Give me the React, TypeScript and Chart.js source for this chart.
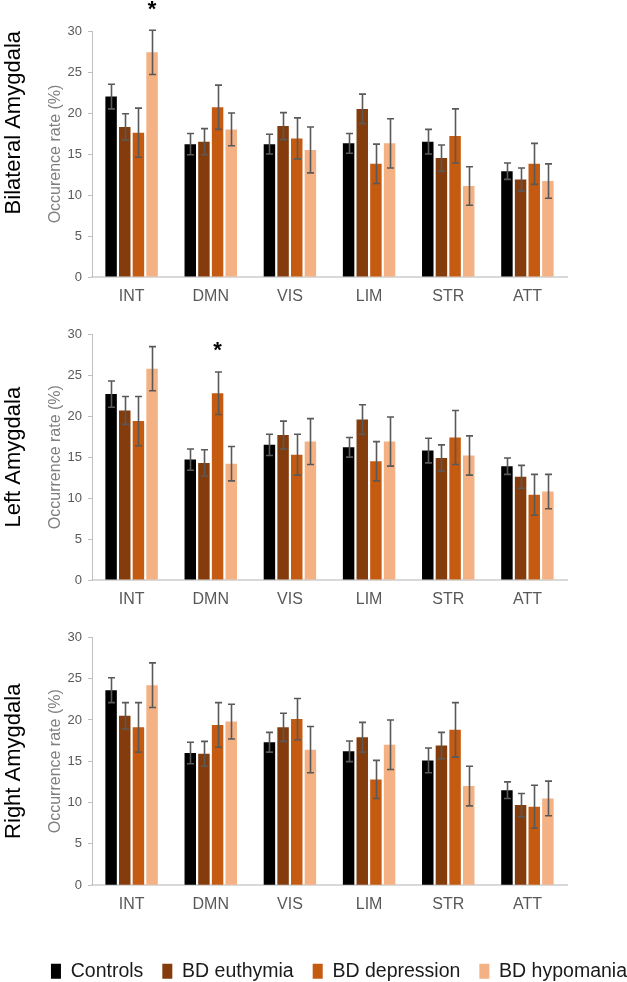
import React, { useEffect, useRef } from 'react';
import { Chart, registerables } from 'chart.js';

Chart.register(...registerables);

// ---------- data ----------
const categories = ['INT', 'DMN', 'VIS', 'LIM', 'STR', 'ATT'];
const seriesNames = ['Controls', 'BD euthymia', 'BD depression', 'BD hypomania'];
const seriesColors = ['#000000', '#843C0C', '#C55A11', '#F4B183'];
const yMin = 0;
const yMax = 30;
const yStep = 5;

const panelTitles = ['Bilateral Amygdala', 'Left Amygdala', 'Right Amygdala'];
const axisTitles = ['Occurence rate (%)', 'Occurrence rate (%)', 'Occurrence rate (%)'];

// Bilateral amygdala
const bilateralControls = [22.0, 16.2, 16.2, 16.3, 16.5, 12.9];
const bilateralEuthymia = [18.3, 16.5, 18.4, 20.5, 14.5, 11.9];
const bilateralDepression = [17.6, 20.7, 16.9, 13.8, 17.2, 13.8];
const bilateralHypomania = [27.4, 18.0, 15.5, 16.3, 11.1, 11.7];
const bilateralControlsErr = [1.5, 1.3, 1.2, 1.2, 1.5, 1.0];
const bilateralEuthymiaErr = [1.6, 1.6, 1.65, 1.8, 1.6, 1.4];
const bilateralDepressionErr = [3.0, 2.7, 2.5, 2.4, 3.3, 2.5];
const bilateralHypomaniaErr = [2.7, 2.0, 2.8, 3.0, 2.35, 2.1];
const bilateralStars = [{ category: 'INT', series: 'BD hypomania' }];

// Left amygdala
const leftControls = [22.7, 14.7, 16.5, 16.2, 15.8, 13.9];
const leftEuthymia = [20.7, 14.3, 17.7, 19.6, 14.9, 12.6];
const leftDepression = [19.4, 22.8, 15.3, 14.5, 17.4, 10.4];
const leftHypomania = [25.8, 14.2, 16.9, 16.9, 15.2, 10.8];
const leftControlsErr = [1.6, 1.3, 1.3, 1.2, 1.5, 1.0];
const leftEuthymiaErr = [1.7, 1.6, 1.7, 1.8, 1.6, 1.4];
const leftDepressionErr = [3.0, 2.6, 2.5, 2.4, 3.3, 2.5];
const leftHypomaniaErr = [2.7, 2.1, 2.8, 3.0, 2.4, 2.1];
const leftStars = [{ category: 'DMN', series: 'BD depression' }];

// Right amygdala
const rightControls = [23.6, 16.0, 17.3, 16.2, 15.1, 11.5];
const rightEuthymia = [20.5, 15.9, 19.1, 17.9, 16.9, 9.7];
const rightDepression = [19.1, 19.4, 20.1, 12.8, 18.8, 9.5];
const rightHypomania = [24.2, 19.8, 16.4, 17.0, 12.0, 10.5];
const rightControlsErr = [1.5, 1.3, 1.2, 1.25, 1.5, 1.0];
const rightEuthymiaErr = [1.6, 1.5, 1.7, 1.8, 1.6, 1.4];
const rightDepressionErr = [3.0, 2.7, 2.5, 2.3, 3.3, 2.6];
const rightHypomaniaErr = [2.7, 2.1, 2.8, 3.0, 2.4, 2.1];
const rightStars: { category: string; series: string }[] = [];

type PanelData = {
  title: string;
  axisTitle: string;
  means: number[][];
  errors: number[][];
  stars: { category: string; series: string }[];
};

const panels: PanelData[] = [
  {
    title: panelTitles[0],
    axisTitle: axisTitles[0],
    means: [bilateralControls, bilateralEuthymia, bilateralDepression, bilateralHypomania],
    errors: [bilateralControlsErr, bilateralEuthymiaErr, bilateralDepressionErr, bilateralHypomaniaErr],
    stars: bilateralStars,
  },
  {
    title: panelTitles[1],
    axisTitle: axisTitles[1],
    means: [leftControls, leftEuthymia, leftDepression, leftHypomania],
    errors: [leftControlsErr, leftEuthymiaErr, leftDepressionErr, leftHypomaniaErr],
    stars: leftStars,
  },
  {
    title: panelTitles[2],
    axisTitle: axisTitles[2],
    means: [rightControls, rightEuthymia, rightDepression, rightHypomania],
    errors: [rightControlsErr, rightEuthymiaErr, rightDepressionErr, rightHypomaniaErr],
    stars: rightStars,
  },
];

// ---------- layout (styles) ----------
const FONT = '"Liberation Sans", Arial, sans-serif';
const layouts = [
  { top: 0, width: 627, height: 310, padTop: 31, xAxisH: 33, rightW: 60, legend: false, titleAlign: 'end' },
  { top: 310, width: 627, height: 303, padTop: 24.3, xAxisH: 33, rightW: 60, legend: false, titleAlign: 'center' },
  { top: 613, width: 646, height: 378, padTop: 24.3, xAxisH: 57.3, rightW: 79, legend: true, titleAlign: 'center' },
];

function makeErrorPlugin(errors: number[][], stars: { category: string; series: string }[]) {
  return {
    id: 'errorBarsAndStars',
    afterDatasetsDraw(chart: any) {
      const ctx = chart.ctx as CanvasRenderingContext2D;
      const yScale = chart.scales.y;
      const cap = 3.5;
      ctx.save();
      ctx.strokeStyle = '#595959';
      ctx.lineWidth = 1.6;
      chart.data.datasets.forEach((ds: any, i: number) => {
        const meta = chart.getDatasetMeta(i);
        meta.data.forEach((bar: any, j: number) => {
          const v = ds.data[j] as number;
          const e = errors[i][j];
          const x = Math.round(bar.x) + 0.5;
          const yt = yScale.getPixelForValue(v + e);
          const yb = yScale.getPixelForValue(v - e);
          ctx.beginPath();
          ctx.moveTo(x, yt);
          ctx.lineTo(x, yb);
          ctx.moveTo(x - cap, yt);
          ctx.lineTo(x + cap, yt);
          ctx.moveTo(x - cap, yb);
          ctx.lineTo(x + cap, yb);
          ctx.stroke();
        });
      });
      ctx.fillStyle = '#000000';
      ctx.font = `bold 22px ${FONT}`;
      ctx.textAlign = 'center';
      ctx.textBaseline = 'alphabetic';
      stars.forEach((s) => {
        const i = seriesNames.indexOf(s.series);
        const j = categories.indexOf(s.category);
        const bar = chart.getDatasetMeta(i).data[j];
        const v = chart.data.datasets[i].data[j] as number;
        const yt = yScale.getPixelForValue(v + errors[i][j]);
        const center = yt - 25;
        const m = ctx.measureText('*');
        const base = center + (m.actualBoundingBoxAscent - m.actualBoundingBoxDescent) / 2;
        ctx.fillText('*', bar.x, base);
      });
      ctx.restore();
    },
  };
}

function Panel({ data, layout }: { data: PanelData; layout: any }) {
  const ref = useRef<HTMLCanvasElement | null>(null);
  useEffect(() => {
    if (!ref.current) return;
    const chart = new Chart(ref.current, {
      type: 'bar',
      data: {
        labels: categories,
        datasets: seriesNames.map((name, i) => ({
          label: name,
          data: data.means[i],
          backgroundColor: seriesColors[i],
          borderWidth: 0,
          categoryPercentage: 0.69,
          barPercentage: 0.84,
          yAxisID: 'y',
        })),
      },
      options: {
        responsive: false,
        maintainAspectRatio: false,
        animation: false,
        layout: { padding: { top: layout.padTop, left: 0, right: 0, bottom: 0 } },
        plugins: {
          legend: layout.legend
            ? {
                display: true,
                position: 'bottom',
                align: 'end',
                labels: {
                  boxWidth: 10,
                  boxHeight: 15,
                  padding: 19,
                  color: '#1a1a1a',
                  font: { size: 19.5, family: FONT },
                },
              }
            : { display: false },
          tooltip: { enabled: false },
        },
        scales: {
          x: {
            position: 'bottom',
            grid: { display: false, drawTicks: false },
            border: { display: true, color: '#D9D9D9', width: 2 },
            ticks: { color: '#595959', font: { size: 16, family: FONT }, padding: 10 },
            afterFit: (s: any) => {
              s.height = layout.xAxisH;
            },
          },
          y: {
            position: 'left',
            weight: 0,
            min: yMin,
            max: yMax,
            ticks: { stepSize: yStep, color: '#595959', font: { size: 13, family: FONT }, padding: 6 },
            grid: { display: true, drawOnChartArea: false, drawTicks: true, tickLength: 4, color: '#BFBFBF' },
            border: { display: true, color: '#BFBFBF', width: 1 },
            title: {
              display: true,
              text: data.axisTitle,
              color: '#7F7F7F',
              font: { size: 16, family: FONT },
              padding: { top: 10, bottom: 0 },
            },
            afterFit: (s: any) => {
              s.width = 56;
            },
          },
          yTitle: {
            type: 'linear',
            position: 'left',
            weight: 1,
            display: true,
            grid: { display: false },
            border: { display: false },
            ticks: { display: false },
            title: {
              display: true,
              text: data.title,
              color: '#000000',
              align: layout.titleAlign,
              font: { size: 22, family: FONT },
              padding: { top: 1, bottom: 0 },
            },
            afterFit: (s: any) => {
              s.width = 36;
            },
          },
          yRight: {
            type: 'linear',
            position: 'right',
            display: true,
            grid: { display: false },
            border: { display: false },
            ticks: { display: false },
            afterFit: (s: any) => {
              s.width = layout.rightW;
            },
          },
        },
      } as any,
      plugins: [makeErrorPlugin(data.errors, data.stars)],
    });
    return () => chart.destroy();
  }, [data, layout]);
  return (
    <canvas
      ref={ref}
      width={layout.width}
      height={layout.height}
      style={{ position: 'absolute', left: 0, top: layout.top, display: 'block' }}
    />
  );
}

export default function App() {
  useEffect(() => {
    document.body.style.margin = '0';
    document.body.style.overflow = 'hidden';
  }, []);
  return (
    <div style={{ position: 'relative', width: 627, height: 982, overflow: 'hidden', background: '#ffffff' }}>
      {panels.map((p, i) => (
        <Panel key={i} data={p} layout={layouts[i]} />
      ))}
    </div>
  );
}
